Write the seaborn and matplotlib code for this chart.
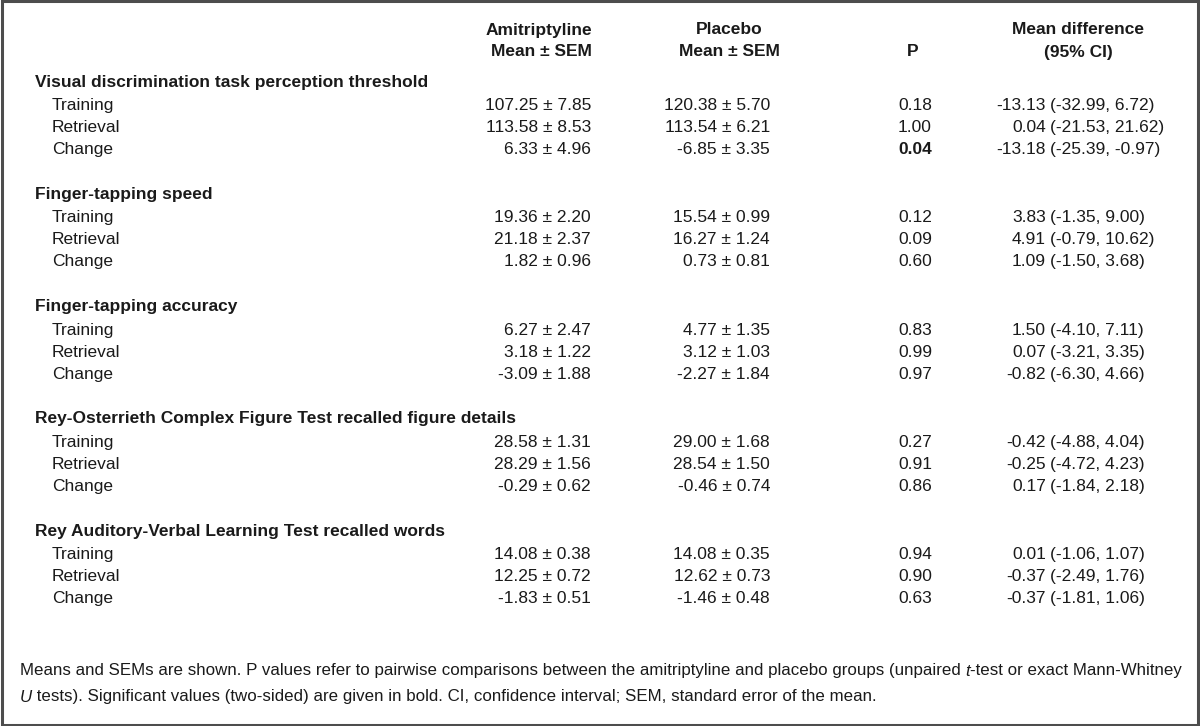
import seaborn as sns
import matplotlib
matplotlib.use("Agg")
from matplotlib import pyplot as plt
from matplotlib.patches import Rectangle

# Table content
sections = ["Visual discrimination task perception threshold",
            "Finger-tapping speed",
            "Finger-tapping accuracy",
            "Rey-Osterrieth Complex Figure Test recalled figure details",
            "Rey Auditory-Verbal Learning Test recalled words"]
phases = ["Training", "Retrieval", "Change"]

ami_mean = [107.25, 113.58, 6.33, 19.36, 21.18, 1.82, 6.27, 3.18, -3.09, 28.58, 28.29, -0.29, 14.08, 12.25, -1.83]
ami_sem = [7.85, 8.53, 4.96, 2.20, 2.37, 0.96, 2.47, 1.22, 1.88, 1.31, 1.56, 0.62, 0.38, 0.72, 0.51]
pla_mean = [120.38, 113.54, -6.85, 15.54, 16.27, 0.73, 4.77, 3.12, -2.27, 29.00, 28.54, -0.46, 14.08, 12.62, -1.46]
pla_sem = [5.70, 6.21, 3.35, 0.99, 1.24, 0.81, 1.35, 1.03, 1.84, 1.68, 1.50, 0.74, 0.35, 0.73, 0.48]
p_val = [0.18, 1.00, 0.04, 0.12, 0.09, 0.60, 0.83, 0.99, 0.97, 0.27, 0.91, 0.86, 0.94, 0.90, 0.63]
mean_diff = [-13.13, 0.04, -13.18, 3.83, 4.91, 1.09, 1.50, 0.07, -0.82, -0.42, -0.25, 0.17, 0.01, -0.37, -0.37]
ci_lo = [-32.99, -21.53, -25.39, -1.35, -0.79, -1.50, -4.10, -3.21, -6.30, -4.88, -4.72, -1.84, -1.06, -2.49, -1.81]
ci_hi = [6.72, 21.62, -0.97, 9.00, 10.62, 3.68, 7.11, 3.35, 4.66, 4.04, 4.23, 2.18, 1.07, 1.76, 1.06]

header1 = ["Amitriptyline", "Placebo", "", "Mean difference"]
header2 = ["Mean \u00b1 SEM", "Mean \u00b1 SEM", "P", "(95% CI)"]

note1 = [("Means and SEMs are shown. P values refer to pairwise comparisons between the amitriptyline "
          "and placebo groups (unpaired ", "normal"), ("t", "italic"), ("-test or exact Mann-Whitney", "normal")]
note2 = [("U", "italic"), (" tests). Significant values (two-sided) are given in bold. CI, confidence "
          "interval; SEM, standard error of the mean.", "normal")]

sns.set_theme(style="white")
plt.rcParams['font.family'] = ['Liberation Sans Narrow', 'Liberation Sans', 'DejaVu Sans']

fig = plt.figure(figsize=(12, 7.26), dpi=100)
ax = fig.add_axes([0, 0, 1, 1])
ax.set_xlim(0, 1200)
ax.set_ylim(726, 0)
ax.axis('off')

fs = 12.5
col = "#1a1a1a"

# header
ax.text(592, 30, header1[0], ha='right', va='center', fontsize=fs, fontweight='bold', color=col)
ax.text(592, 52, header2[0], ha='right', va='center', fontsize=fs, fontweight='bold', color=col)
ax.text(729, 30, header1[1], ha='center', va='center', fontsize=fs, fontweight='bold', color=col)
ax.text(729, 52, header2[1], ha='center', va='center', fontsize=fs, fontweight='bold', color=col)
ax.text(913, 52, header2[2], ha='center', va='center', fontsize=fs, fontweight='bold', color=col)
ax.text(1078, 30, header1[3], ha='center', va='center', fontsize=fs, fontweight='bold', color=col)
ax.text(1078, 52, header2[3], ha='center', va='center', fontsize=fs, fontweight='bold', color=col)

# body
for k, sec in enumerate(sections):
    ys = 82 + 112.3 * k
    ax.text(35, ys, sec, ha='left', va='center', fontsize=fs, fontweight='bold', color=col)
    for j, ph in enumerate(phases):
        i = 3 * k + j
        y = ys + 23.5 + 22 * j
        ax.text(52, y, ph, ha='left', va='center', fontsize=fs, color=col)
        ax.text(591, y, f"{ami_mean[i]:.2f} \u00b1 {ami_sem[i]:.2f}", ha='right', va='center', fontsize=fs, color=col)
        ax.text(770, y, f"{pla_mean[i]:.2f} \u00b1 {pla_sem[i]:.2f}", ha='right', va='center', fontsize=fs, color=col)
        ax.text(915, y, f"{p_val[i]:.2f}", ha='center', va='center', fontsize=fs, color=col,
                fontweight='bold' if p_val[i] < 0.05 else 'normal')
        ax.text(1046, y, f"{mean_diff[i]:.2f}", ha='right', va='center', fontsize=fs, color=col)
        ax.text(1050, y, f"({ci_lo[i]:.2f}, {ci_hi[i]:.2f})", ha='left', va='center', fontsize=fs, color=col)

# footnote, drawn piece by piece so the italic letters fit in
fig.canvas.draw()
renderer = fig.canvas.get_renderer()
inv = ax.transData.inverted()
fs_note = 12.15
for pieces, y in [(note1, 671), (note2, 697)]:
    x = 20
    for txt, style in pieces:
        t = ax.text(x, y, txt, ha='left', va='center', fontsize=fs_note, style=style, color=col)
        bb = t.get_window_extent(renderer)
        x = inv.transform((bb.x1, bb.y0))[0]

# frame around the table
fig.patches.append(Rectangle((0.002, 0.002), 0.996, 0.996, transform=fig.transFigure,
                             fill=False, edgecolor="#4d4d4d", linewidth=2.2))

fig.savefig("out.png", dpi=100, facecolor="white")
